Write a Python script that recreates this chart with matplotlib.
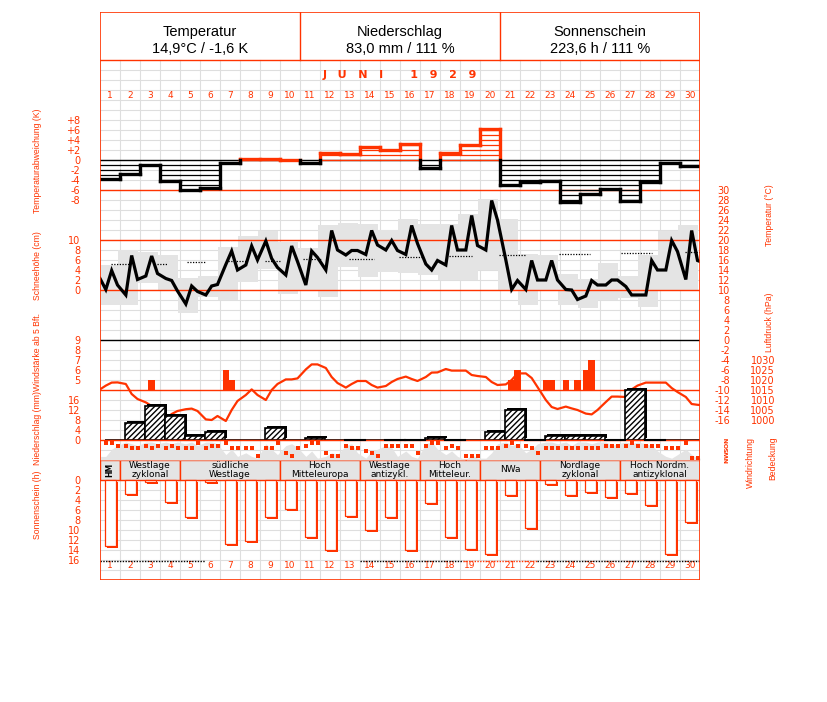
import matplotlib
matplotlib.use("Agg")
import matplotlib.pyplot as plt
import matplotlib.patheffects as pe
from matplotlib.patches import Rectangle
import numpy as np

RED = "#ff3300"
GRID = "#dedede"
SHADE = "#e4e4e4"

# ---------------- data (June 1929) ----------------
days = np.arange(1, 31)
term_hours = [7, 14, 21]

# daily mean temperature anomaly (K)
temp_anom = [-3.8, -2.8, -1.0, -4.1, -6.0, -5.5, -0.5, 0.3, 0.3, 0.1,
             -0.5, 1.5, 1.3, 2.7, 2.1, 3.3, -1.5, 1.5, 3.1, 6.2,
             -4.9, -4.3, -4.2, -8.3, -6.7, -5.7, -8.1, -4.3, -0.5, -1.1]

# term temperatures 7h / 14h / 21h (degC)
temp_start = 12.3
temp_end = 15.7
temp_obs = [10.1, 13.9, 11.0, 9.0, 16.9, 12.1, 12.8, 16.8, 13.3, 12.3, 11.9, 9.8,
            7.2, 10.8, 9.7, 9.0, 10.8, 11.1, 15.1, 17.8, 14.0, 15.0, 18.8, 16.0,
            19.8, 16.3, 14.5, 13.0, 18.8, 15.7, 11.0, 17.8, 16.5, 14.0, 21.9, 18.0,
            17.0, 17.9, 17.9, 17.1, 21.9, 19.0, 18.0, 19.9, 17.9, 17.1, 22.9, 19.3,
            15.2, 14.0, 15.9, 15.0, 22.9, 18.0, 18.0, 24.9, 18.9, 18.0, 27.9, 24.0,
            16.0, 10.1, 11.9, 10.1, 15.9, 12.0, 12.0, 15.9, 12.0, 10.1, 10.0, 8.1,
            8.8, 11.9, 11.0, 11.0, 12.0, 12.0, 10.7, 9.0, 9.0, 9.0, 15.9, 14.0,
            14.0, 19.9, 17.7, 12.1, 21.9, 15.9]

# daily extremes (21h - 21h)
temp_max = [15.0, 18.1, 17.7, 17.0, 12.5, 12.8, 18.7, 20.8, 21.9, 19.7,
            18.5, 23.0, 23.5, 23.3, 22.0, 24.2, 23.3, 23.3, 25.3, 28.3,
            24.2, 17.2, 17.0, 13.3, 12.3, 15.5, 12.8, 17.1, 21.9, 23.0]
temp_min = [7.0, 7.0, 11.5, 10.0, 5.5, 8.7, 8.0, 11.7, 14.3, 9.3,
            10.0, 8.7, 14.7, 12.7, 13.7, 13.5, 13.0, 12.0, 12.0, 14.0,
            9.9, 7.0, 10.0, 7.0, 6.5, 8.0, 8.5, 6.7, 10.0, 10.0]

# long-term mean temperature, drawn as dotted pieces
normal_from = [0.55, 2.83, 4.33, 6.4, 8.25, 10.13, 12.47, 14.97, 17.47, 19.97, 22.97, 26.03, 29.25]
normal_to = [1.5, 3.42, 5.28, 7.33, 9.0, 11.08, 13.7, 16.13, 18.62, 21.3, 24.5, 27.58, 30.0]
normal_temp = [15.2, 15.3, 15.7, 15.8, 15.9, 16.2, 16.3, 16.6, 16.8, 17.0, 17.2, 17.5, 17.6]

# air pressure 7h / 14h / 21h (hPa)
pres_start = 1015.3
pres_end = 1007.5
pressure = [1017.2, 1018.7, 1018.8, 1018.0, 1013.0, 1010.5, 1008.8, 1007.0, 1004.0, 1000.3, 1003.0, 1004.5,
            1005.4, 1005.7, 1004.5, 1000.3, 1000.0, 1002.0, 999.5, 1005.0, 1009.5, 1012.5, 1015.3, 1012.5,
            1010.0, 1015.0, 1018.0, 1020.3, 1020.3, 1020.8, 1025.3, 1027.8, 1027.8, 1026.0, 1021.5, 1018.5,
            1016.2, 1018.0, 1019.5, 1019.5, 1017.5, 1016.2, 1017.0, 1019.0, 1020.5, 1021.7, 1020.5, 1019.5,
            1021.5, 1023.7, 1023.8, 1025.5, 1024.7, 1024.7, 1024.7, 1022.5, 1022.0, 1021.5, 1019.0, 1017.5,
            1017.8, 1020.0, 1023.3, 1023.3, 1021.0, 1016.5, 1010.0, 1006.5, 1005.5, 1006.7, 1005.8, 1005.0,
            1003.2, 1002.8, 1005.0, 1009.0, 1011.7, 1011.7, 1011.5, 1015.3, 1017.2, 1018.7, 1018.7, 1018.7,
            1018.7, 1016.0, 1014.0, 1011.5, 1008.0, 1007.6]

# wind force >= 5 Bft (day, term index 0=7h 1=14h 2=21h, Bft)
wind_day = [3, 7, 7, 21, 21, 23, 23, 24, 24, 25, 25]
wind_term = [1, 0, 1, 1, 2, 0, 1, 0, 2, 0, 1]
wind_bft = [5, 6, 5, 5, 6, 5, 5, 5, 5, 6, 7]

# precipitation (mm), measured next morning
precip = [0, 6.9, 13.7, 9.7, 1.7, 3.1, 0, 0, 4.9, 0,
          0.9, 0, 0, 0, 0, 0, 0.9, 0, 0, 3.1,
          11.9, 0, 1.7, 1.7, 1.7, 0, 19.9, 0, 0, 0]
precip_trace_days = [13, 15, 16, 18, 22, 26, 28]

# wind direction in degrees at 7h / 14h / 21h
wind_dir = [45, 45, 112.5, 112.5, 135, 135, 112.5, 135, 112.5, 135, 112.5, 135,
            135, 135, 45, 135, 112.5, 112.5, 45, 135, 135, 135, 135, 292.5,
            135, 135, 45, 225, 292.5, 135, 112.5, 45, 45, 225, 292.5, 292.5,
            112.5, 135, 135, 202.5, 225, 292.5, 112.5, 112.5, 112.5, 112.5, 112.5, 225,
            112.5, 45, 45, 135, 112.5, 135, 292.5, 292.5, 292.5, 135, 135, 135,
            112.5, 45, 112.5, 112.5, 135, 225, 135, 135, 135, 135, 135, 135,
            135, 135, 135, 112.5, 112.5, 112.5, 112.5, 45, 112.5, 112.5, 112.5, 112.5,
            135, 135, 135, 45, 315, 315]

# cloud cover (tenths) at 7h / 14h / 21h
cloud = [2, 6, 8, 10, 9, 8, 10, 10, 9, 10, 9, 10,
         9, 10, 8, 10, 10, 9, 3, 6, 2, 4, 2, 1,
         9, 6, 3, 8, 9, 7, 2, 5, 1, 2, 4, 3,
         8, 9, 4, 1, 5, 6, 8, 7, 2, 5, 2, 1,
         9, 10, 6, 3, 5, 2, 0, 3, 1, 1, 4, 9,
         10, 8, 9, 4, 6, 9, 10, 10, 9, 10, 8, 10,
         10, 9, 10, 10, 8, 9, 10, 9, 10, 9, 8, 5,
         2, 1, 3, 6, 3, 1]

# sunshine duration (h)
sunshine = [13.1, 2.8, 0.3, 4.4, 7.4, 0.3, 12.7, 12.1, 7.4, 5.7,
            11.4, 14.0, 7.1, 9.9, 7.4, 13.9, 4.5, 11.3, 13.7, 14.7,
            2.9, 9.6, 0.7, 2.9, 2.4, 3.3, 2.5, 5.0, 14.7, 8.3]
sun_line_from = [0, 13, 18.15, 21.85]
sun_line_to = [5.25, 18.15, 21.85, 30]
sun_line_color = ["black", "black", RED, "black"]

# weather types (Grosswetterlagen)
wt_first = [1, 2, 5, 10, 14, 17, 20, 23, 27]
wt_last = [1, 4, 9, 13, 16, 19, 22, 26, 30]
wt_name = ["HM", "Westlage\nzyklonal", "südliche\nWestlage", "Hoch\nMitteleuropa",
           "Westlage\nantizykl.", "Hoch\nMitteleur.", "NWa", "Nordlage\nzyklonal",
           "Hoch Nordm.\nantizyklonal"]

header_title = ["Temperatur", "Niederschlag", "Sonnenschein"]
header_value = ["14,9°C / -1,6 K", "83,0 mm / 111 %", "223,6 h / 111 %"]

# ---------------- layout ----------------
W, H = 827, 702
X0, X1, Y0, Y1 = 100, 700, 12, 580

fig = plt.figure(figsize=(W / 100, H / 100), dpi=100)
fig.patch.set_facecolor("white")


def layer(va, pa, vb, pb, z):
    """axes over the chart frame, value va sits at pixel row pa and vb at pb"""
    ax = fig.add_axes([X0 / W, 1 - Y1 / H, (X1 - X0) / W, (Y1 - Y0) / H], zorder=z)
    k = (vb - va) / (pb - pa)
    ax.set_ylim(va + (Y1 - pa) * k, va + (Y0 - pa) * k)
    ax.set_xlim(0, 30)
    ax.set_frame_on(False)
    ax.patch.set_visible(False)
    ax.set_xticks([])
    ax.set_yticks([])
    return ax


def left_ticks(ax, vals, labels):
    ax.set_yticks(vals)
    ax.set_yticklabels(labels)
    ax.tick_params(axis="y", length=0, pad=14, labelsize=7, labelcolor=RED)


def right_ticks(ax, vals, edge_px):
    ax.yaxis.tick_right()
    ax.set_yticks(vals)
    ax.set_yticklabels([str(v) for v in vals], ha="right")
    ax.tick_params(axis="y", length=0, pad=(edge_px - X1) * 0.72, labelsize=7, labelcolor=RED)


term_x = np.array([d - 1 + h / 24 for d in days for h in term_hours])

# base: grid, header, day numbers, weather types (y in pixel rows)
base = layer(Y0, Y0, Y1, Y1, 0)
for x in range(31):
    base.plot([x, x], [60, 580], color=GRID, lw=0.8)
for y in range(70, 580, 10):
    base.plot([0, 30], [y, y], color=GRID, lw=0.8)
base.add_patch(Rectangle((0, 12), 30, 48, facecolor="white", edgecolor="none"))
base.plot([0, 30], [60, 60], color=RED, lw=1)
for x in (10, 20):
    base.plot([x, x], [12, 60], color=RED, lw=1)
for i in range(3):
    base.text(5 + 10 * i, 32, header_title[i], ha="center", va="center",
              fontsize=10.5, family="Liberation Sans")
    base.text(5 + 10 * i, 49, header_value[i], ha="center", va="center",
              fontsize=10.5, family="Liberation Sans")
base.text(15, 75, "J   U   N   I       1   9   2   9", ha="center", va="center",
          fontsize=8, color=RED, fontweight="bold")
for d in days:
    base.text(d - 0.5, 96, str(d), ha="center", va="center", fontsize=6.5, color=RED)
    base.text(d - 0.5, 566, str(d), ha="center", va="center", fontsize=6.5, color=RED)
for a, b, name in zip(wt_first, wt_last, wt_name):
    base.add_patch(Rectangle((a - 1, 460), b - a + 1, 20, facecolor=SHADE,
                             edgecolor=RED, lw=1, zorder=3))
    if a == b:
        base.text(a - 0.5, 470, name, ha="center", va="center", rotation=90,
                  fontsize=5.5, fontweight="bold", zorder=4)
    else:
        base.text((a + b - 1) / 2, 470, name, ha="center", va="center",
                  fontsize=6.5, linespacing=1.0, zorder=4)

# temperature panel (also carries the snow scale)
tax = layer(30, 190, 0, 340, 1)
tax.bar(days - 1 - 0.125, np.array(temp_max) - np.array(temp_min), bottom=temp_min,
        width=1, align="edge", color=SHADE, lw=0)
for a, b, v in zip(normal_from, normal_to, normal_temp):
    tax.plot([a, b], [v, v], color="black", lw=0.9, ls=(0, (1, 1.2)))
for v, c in ((30, RED), (20, RED), (10, RED), (0, "black"), (-10, RED)):
    tax.axhline(v, color=c, lw=1)
tx = np.concatenate([[0], term_x, [30]])
ty = np.concatenate([[temp_start], temp_obs, [temp_end]])
tax.plot(tx, ty, color="black", lw=2.3, solid_joinstyle="miter")
right_ticks(tax, list(range(30, -17, -2)), 730)

sax = layer(10, 240, 0, 290, 1)
left_ticks(sax, [0, 2, 4, 6, 8, 10], ["0", "2", "4", "6", "8", "10"])

# temperature anomaly
aax = layer(0, 160, -6, 190, 2)
aax.axhline(0, color="black", lw=1)
for i, a in enumerate(temp_anom):
    col = RED if a > 0 else "black"
    sgn = 1 if a > 0 else -1
    for k in range(0 if a > 0 else 1, int(abs(a)) + 1):
        aax.plot([i, i + 1], [sgn * k, sgn * k], color=col, lw=0.9)
    aax.plot([i, i + 1], [a, a], color=col, lw=2.4, solid_capstyle="projecting")
for i in range(1, 30):
    lo, hi = sorted((temp_anom[i - 1], temp_anom[i]))
    if hi > 0:
        aax.plot([i, i], [max(lo, 0), hi], color=RED, lw=2.4)
    if lo < 0:
        aax.plot([i, i], [lo, min(hi, 0)], color="black", lw=2.4)
left_ticks(aax, [-8, -6, -4, -2, 0, 2, 4, 6, 8],
           ["-8", "-6", "-4", "-2", "0", "+2", "+4", "+6", "+8"])

# pressure
pax = layer(1030, 360, 1000, 420, 3)
px = np.concatenate([[0], term_x, [30]])
py = np.concatenate([[pres_start], pressure, [pres_end]])
pax.plot(px, py, color=RED, lw=1.6)
right_ticks(pax, [1030, 1025, 1020, 1015, 1010, 1005, 1000], 775)

# wind force
wax = layer(4, 390, 9, 340, 3)
wx = [d - 1 + term_hours[t] / 24 for d, t in zip(wind_day, wind_term)]
wax.bar(wx, np.array(wind_bft) - 4, bottom=4, width=1 / 3, color=RED, lw=0)
left_ticks(wax, [5, 6, 7, 8, 9], ["5", "6", "7", "8", "9"])

# cloud cover
cax = layer(0, 460, 10, 442, 2)
cax.fill_between(np.concatenate([[0], term_x, [30]]),
                 np.concatenate([[cloud[0]], cloud, [cloud[-1]]]), 0,
                 color=SHADE, lw=0)

# wind direction dots
dax = layer(0, 440, 360, 460, 4)
dax.plot(term_x, wind_dir, ls="none", marker="s", ms=2.2, mew=0, color=RED)
for v, s in zip([0, 90, 180, 270, 360], ["N", "O", "S", "W", "N"]):
    dax.text(1.045, v, s, transform=dax.get_yaxis_transform(), rotation=90,
             ha="center", va="center", fontsize=4.5, color=RED, fontweight="bold")

# precipitation
rax = layer(0, 440, 16, 400, 5)
rax.axhline(0, color=RED, lw=1)
rax.bar(days - 0.75, precip, width=1, align="edge", facecolor="white",
        edgecolor="black", hatch="//////", lw=1.2,
        path_effects=[pe.SimplePatchShadow(offset=(1.5, 1.5), shadow_rgbFace="black", alpha=1),
                      pe.Normal()])
for d in precip_trace_days:
    rax.plot([d - 0.75, d + 0.25], [0.2, 0.2], color="black", lw=1.5)
left_ticks(rax, [0, 4, 8, 12, 16], ["0", "4", "8", "12", "16"])

# sunshine
uax = layer(0, 480, 16, 560, 5)
uax.bar(days - 0.5, sunshine, width=0.55, facecolor="white", edgecolor=RED, lw=0.9,
        path_effects=[pe.SimplePatchShadow(offset=(1.5, -1.5), shadow_rgbFace=RED, alpha=1),
                      pe.Normal()])
for a, b, c in zip(sun_line_from, sun_line_to, sun_line_color):
    uax.plot([a, b], [16.2, 16.2], color=c, lw=1, ls=(0, (1, 1)))
left_ticks(uax, [0, 2, 4, 6, 8, 10, 12, 14, 16],
           ["0", "2", "4", "6", "8", "10", "12", "14", "16"])

# frame on top
top = layer(Y0, Y0, Y1, Y1, 10)
top.add_patch(Rectangle((0, 12), 30, 568, fill=False, edgecolor=RED, lw=1.2))

# rotated axis titles
titles = [("Temperaturabweichung (K)", 37, 161), ("Schneehöhe (cm)", 37, 266),
          ("Windstärke ab 5 Bft.", 37, 352), ("Niederschlag (mm)", 37, 428),
          ("Sonnenschein (h)", 37, 505), ("Temperatur (°C)", 770, 215),
          ("Luftdruck (hPa)", 770, 322), ("Windrichtung", 750, 462),
          ("Bedeckung", 773, 458)]
for s, x, y in titles:
    fig.text(x / W, 1 - y / H, s, rotation=90, ha="center", va="center",
             fontsize=6.2, color=RED, family=["Liberation Sans", "DejaVu Sans"])

fig.savefig("out.png", dpi=100)
